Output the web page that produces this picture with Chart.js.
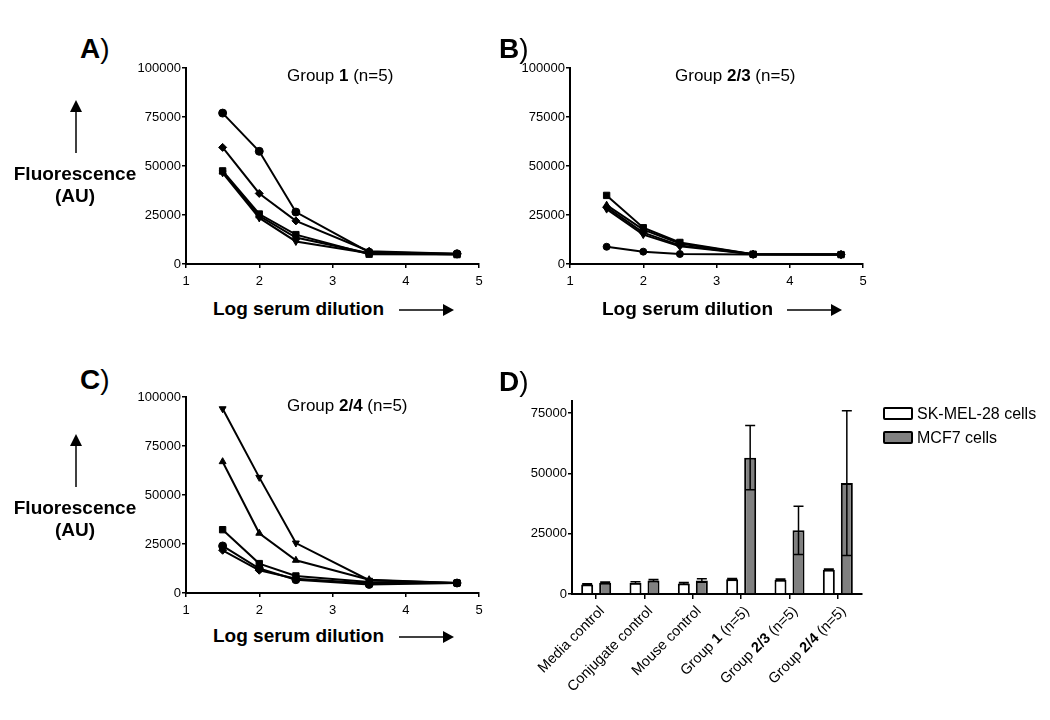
<!DOCTYPE html>
<html>
<head>
<meta charset="utf-8">
<script src="https://cdn.jsdelivr.net/npm/chart.js@4.4.1/dist/chart.umd.min.js"></script>
<style>
  html, body { margin:0; padding:0; background:#fff; }
  body { width:1050px; height:720px; position:relative; overflow:hidden; font-family:'Liberation Sans', Arial, Helvetica, sans-serif; color:#000; }
  .abs { position:absolute; white-space:nowrap; line-height:1; }
  canvas { position:absolute; }
  .plabel { font-size:28px; font-weight:bold; }
  .plabel span { font-weight:normal; }
  .title { font-size:17px; }
  .axt { font-size:19px; font-weight:bold; }
  .leg { font-size:16px; }
  .box { position:absolute; width:26px; height:9px; border:2px solid #000; border-radius:2px; }
</style>
</head>
<body>
<canvas id="cA" width="390" height="240" style="left:110px;top:55px"></canvas>
<canvas id="cB" width="390" height="240" style="left:494px;top:55px"></canvas>
<canvas id="cC" width="390" height="240" style="left:110px;top:384px"></canvas>
<canvas id="cD" width="380" height="332" style="left:496px;top:388px"></canvas>

<div class="abs plabel" style="left:80px;top:35px">A<span>)</span></div>
<div class="abs plabel" style="left:499px;top:35px">B<span>)</span></div>
<div class="abs plabel" style="left:80px;top:366px">C<span>)</span></div>
<div class="abs plabel" style="left:499px;top:368px">D<span>)</span></div>

<div class="abs title" style="left:287px;top:67px">Group <b>1</b> (n=5)</div>
<div class="abs title" style="left:675px;top:67px">Group <b>2/3</b> (n=5)</div>
<div class="abs title" style="left:287px;top:397px">Group <b>2/4</b> (n=5)</div>

<div class="abs axt" style="left:75px;top:163px;transform:translateX(-50%);text-align:center;line-height:22px">Fluorescence<br>(AU)</div>
<div class="abs axt" style="left:75px;top:497px;transform:translateX(-50%);text-align:center;line-height:22px">Fluorescence<br>(AU)</div>

<div class="abs axt" style="left:213px;top:299px">Log serum dilution</div>
<div class="abs axt" style="left:602px;top:299px">Log serum dilution</div>
<div class="abs axt" style="left:213px;top:626px">Log serum dilution</div>

<svg class="abs" style="left:0;top:0" width="1050" height="720">
  <g fill="#000" stroke="#000" stroke-width="1.5">
    <line x1="76" y1="153" x2="76" y2="108"/><polygon points="70,112 82,112 76,100" stroke="none"/>
    <line x1="76" y1="487" x2="76" y2="442"/><polygon points="70,446 82,446 76,434" stroke="none"/>
    <line x1="399" y1="310" x2="444" y2="310"/><polygon points="443,304 443,316 454,310" stroke="none"/>
    <line x1="787" y1="310" x2="832" y2="310"/><polygon points="831,304 831,316 842,310" stroke="none"/>
    <line x1="399" y1="637" x2="444" y2="637"/><polygon points="443,631 443,643 454,637" stroke="none"/>
  </g>
</svg>

<div class="box" style="left:883px;top:407px;background:#fff"></div>
<div class="abs leg" style="left:917px;top:406px">SK-MEL-28 cells</div>
<div class="box" style="left:883px;top:431px;background:#808080"></div>
<div class="abs leg" style="left:917px;top:430px">MCF7 cells</div>

<script>
// ---------- DATA ----------
const logDilution = [1.5, 2, 2.5, 3.5, 4.7];

// Panel A: Group 1
const g1Circle   = [77000, 57500, 26500, 6000, 5200];
const g1Diamond  = [59500, 36000, 22000, 6500, 5200];
const g1Square   = [47500, 25500, 15000, 5000, 4800];
const g1Triangle = [47000, 24500, 13500, 5500, 5000];
const g1InvTri   = [46500, 23500, 11500, 5500, 5000];

// Panel B: Group 2/3
const g23Square   = [35000, 18500, 11000, 5000, 4800];
const g23Triangle = [30000, 17500, 10500, 5000, 4800];
const g23Diamond  = [29000, 16000, 9500, 5000, 4800];
const g23InvTri   = [28000, 15000, 9000, 5000, 4800];
const g23Circle   = [8800, 6300, 5100, 4800, 4800];

// Panel C: Group 2/4
const g24InvTri   = [94000, 59000, 25500, 6500, 5100];
const g24Triangle = [67000, 30500, 16700, 6800, 5100];
const g24Square   = [32300, 15000, 8700, 5600, 5100];
const g24Circle   = [24000, 12500, 6800, 4400, 5100];
const g24Diamond  = [21800, 11600, 7300, 5000, 5100];

const xTicksLine = [1, 2, 3, 4, 5];
const yTicksLine = [0, 25000, 50000, 75000, 100000];

// Panel D
const dCategories = ['Media control', 'Conjugate control', 'Mouse control', 'Group 1 (n=5)', 'Group 2/3 (n=5)', 'Group 2/4 (n=5)'];
const skmelMeans  = [3900, 4700, 4400, 6100, 5900, 10100];
const skmelErrors = [300, 400, 400, 300, 300, 300];
const mcf7Means   = [4700, 5600, 5600, 56500, 26400, 46000];
const mcf7Errors  = [300, 400, 700, 13300, 10000, 30000];
const yTicksBar   = [0, 25000, 50000, 75000];

// ---------- HELPERS ----------
const FONT = "'Liberation Sans', Arial, Helvetica, sans-serif";
Chart.defaults.color = '#000';
Chart.defaults.font.family = FONT;

function toPts(ys) { return ys.map((y, i) => ({x: logDilution[i], y})); }
function series(ys, style, rot, r) {
  return {
    data: toPts(ys), borderColor: '#000', backgroundColor: '#000', borderWidth: 2,
    pointStyle: style, pointRotation: rot || 0, pointRadius: r || 4, pointBorderWidth: 1,
    pointBackgroundColor: '#000', pointBorderColor: '#000', tension: 0
  };
}
function lineChart(id, datasets) {
  return new Chart(document.getElementById(id), {
    type: 'line',
    data: { datasets },
    options: {
      responsive: false, animation: false, events: [],
      layout: { padding: { top: 13, right: 21, left: 0, bottom: 0 } },
      plugins: { legend: { display: false }, tooltip: { enabled: false } },
      scales: {
        x: {
          type: 'linear', min: 1, max: 5,
          afterBuildTicks: s => { s.ticks = xTicksLine.map(v => ({value: v})); },
          afterFit: s => { s.height = 31; },
          border: { display: true, color: '#000', width: 2 },
          grid: { drawOnChartArea: false, drawTicks: true, tickLength: 4, color: '#000', lineWidth: 1.5 },
          ticks: { font: { size: 13 }, padding: 6, color: '#000' }
        },
        y: {
          min: 0, max: 100000,
          afterBuildTicks: s => { s.ticks = yTicksLine.map(v => ({value: v})); },
          afterFit: s => { s.width = 76; },
          border: { display: true, color: '#000', width: 2 },
          grid: { drawOnChartArea: false, drawTicks: true, tickLength: 4, color: '#000', lineWidth: 1.5 },
          ticks: { font: { size: 13 }, padding: 1, color: '#000', callback: v => String(v) }
        }
      }
    }
  });
}

lineChart('cA', [
  series(g1InvTri, 'triangle', 180),
  series(g1Triangle, 'triangle'),
  series(g1Square, 'rect', 0, 4.5),
  series(g1Diamond, 'rectRot'),
  series(g1Circle, 'circle')
]);
lineChart('cB', [
  series(g23Circle, 'circle', 0, 3.5),
  series(g23InvTri, 'triangle', 180),
  series(g23Diamond, 'rectRot'),
  series(g23Triangle, 'triangle'),
  series(g23Square, 'rect', 0, 4.5)
]);
lineChart('cC', [
  series(g24Diamond, 'rectRot'),
  series(g24Circle, 'circle'),
  series(g24Square, 'rect', 0, 4.5),
  series(g24Triangle, 'triangle'),
  series(g24InvTri, 'triangle', 180)
]);

const errorBars = {
  id: 'errorBars',
  afterDatasetsDraw(chart) {
    const ctx = chart.ctx, ys = chart.scales.y;
    chart.data.datasets.forEach((ds, di) => {
      const meta = chart.getDatasetMeta(di);
      meta.data.forEach((bar, i) => {
        const v = ds.data[i], e = ds.errors[i];
        if (!e) return;
        const top = ys.getPixelForValue(v + e), bot = ys.getPixelForValue(Math.max(0, v - e));
        ctx.save();
        ctx.strokeStyle = '#000'; ctx.lineWidth = 1.5;
        ctx.beginPath();
        ctx.moveTo(bar.x, top); ctx.lineTo(bar.x, bot);
        ctx.moveTo(bar.x - 5, top); ctx.lineTo(bar.x + 5, top);
        ctx.moveTo(bar.x - 5, bot); ctx.lineTo(bar.x + 5, bot);
        ctx.stroke();
        ctx.restore();
      });
    });
  }
};

// Rotated category labels with the group number in bold (as in the original figure)
function labelParts(label) {
  const m = label.match(/^(Group )(\S+)( .*)$/);
  return m ? [[m[1], false], [m[2], true], [m[3], false]] : [[label, false]];
}
const richTicks = {
  id: 'richTicks',
  afterDraw(chart) {
    const ctx = chart.ctx, xs = chart.scales.x;
    const size = 14.5;
    chart.data.labels.forEach((lab, i) => {
      const parts = labelParts(lab);
      const tx = xs.getPixelForTick(i);
      const ty = xs.top + 6;
      ctx.save();
      let total = 0;
      parts.forEach(p => { ctx.font = (p[1] ? 'bold ' : '') + size + 'px ' + FONT; p.w = ctx.measureText(p[0]).width; total += p.w; });
      ctx.translate(tx + 6, ty + 9);
      ctx.rotate(-Math.PI / 4);
      ctx.textBaseline = 'middle';
      ctx.textAlign = 'left';
      ctx.fillStyle = '#000';
      let x = -total;
      parts.forEach(p => { ctx.font = (p[1] ? 'bold ' : '') + size + 'px ' + FONT; ctx.fillText(p[0], x, 0); x += p.w; });
      ctx.restore();
    });
  }
};

new Chart(document.getElementById('cD'), {
  type: 'bar',
  data: {
    labels: dCategories,
    datasets: [
      { label: 'SK-MEL-28 cells', data: skmelMeans, errors: skmelErrors, backgroundColor: '#fff', borderColor: '#000', borderWidth: 2, borderSkipped: 'bottom' },
      { label: 'MCF7 cells', data: mcf7Means, errors: mcf7Errors, backgroundColor: '#808080', borderColor: '#000', borderWidth: 2, borderSkipped: 'bottom' }
    ]
  },
  options: {
    responsive: false, animation: false, events: [],
    datasets: { bar: { barPercentage: 0.667, categoryPercentage: 0.745 } },
    layout: { padding: { top: 13, right: 14, left: 0, bottom: 0 } },
    plugins: { legend: { display: false }, tooltip: { enabled: false } },
    scales: {
      x: {
        afterFit: s => { s.height = 126; },
        border: { display: true, color: '#000', width: 2 },
        grid: { offset: false, drawOnChartArea: false, drawTicks: true, tickLength: 5, color: '#000', lineWidth: 1.5 },
        ticks: { display: false, autoSkip: false }
      },
      y: {
        min: 0, max: 80000,
        afterBuildTicks: s => { s.ticks = yTicksBar.map(v => ({value: v})); },
        afterFit: s => { s.width = 76; },
        border: { display: true, color: '#000', width: 2 },
        grid: { drawOnChartArea: false, drawTicks: true, tickLength: 4, color: '#000', lineWidth: 1.5 },
        ticks: { font: { size: 13 }, padding: 1, color: '#000', callback: v => String(v) }
      }
    }
  },
  plugins: [errorBars, richTicks]
});
</script>
</body>
</html>
